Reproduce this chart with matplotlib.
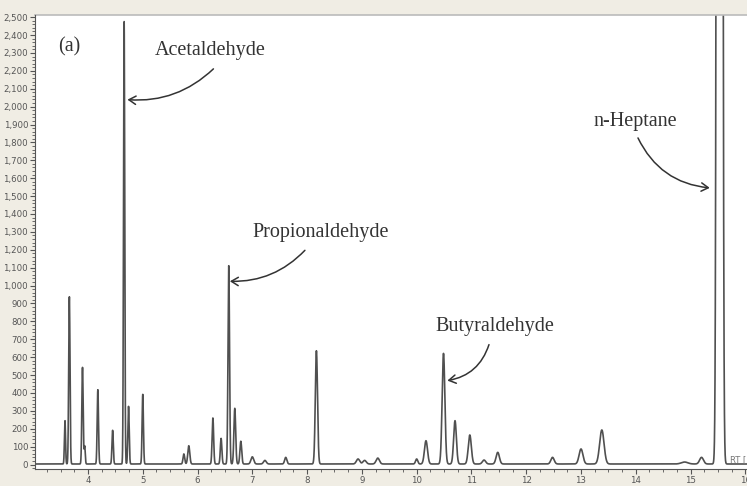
import numpy as np
import matplotlib
matplotlib.use("Agg")
import matplotlib.pyplot as plt
from matplotlib.ticker import MultipleLocator, FuncFormatter

# ---- data ----
peak_rt = [3.58, 3.66, 3.90, 3.94, 4.18, 4.45, 4.66, 4.74, 5.00, 5.75, 5.84,
           6.28, 6.43, 6.57, 6.68, 6.79, 7.00, 7.23, 7.61, 8.17, 8.93, 9.05,
           9.29, 10.00, 10.17, 10.49, 10.70, 10.97, 11.23, 11.48, 12.48,
           13.00, 13.38, 14.89, 15.20, 15.53]
peak_height = [242, 935, 540, 100, 415, 188, 2475, 322, 389, 56, 102,
               257, 143, 1108, 311, 127, 40, 20, 37, 633, 28, 20,
               33, 28, 130, 618, 242, 162, 22, 65, 37,
               84, 190, 11, 37, 60000]
peak_sigma = [0.010, 0.012, 0.012, 0.010, 0.012, 0.012, 0.011, 0.012, 0.012, 0.015, 0.018,
              0.014, 0.014, 0.014, 0.016, 0.016, 0.025, 0.025, 0.02, 0.020, 0.03, 0.03,
              0.03, 0.02, 0.028, 0.025, 0.025, 0.028, 0.03, 0.03, 0.03,
              0.035, 0.040, 0.06, 0.035, 0.027]
baseline = 3

labels = ["Acetaldehyde", "Propionaldehyde", "Butyraldehyde", "n-Heptane"]
label_xy = [(6.24, 2313), (8.25, 1296), (11.43, 771), (14.0, 1918)]
arrow_from = [(6.29, 2211), (7.96, 1197), (11.32, 670), (14.04, 1825)]
arrow_to = [(4.72, 2039), (6.59, 1024), (10.56, 469), (15.35, 1546)]
arrow_rad = [-0.22, -0.22, -0.3, 0.28]

xticks = list(range(4, 17))
yticks = list(range(0, 2600, 100))

# ---- figure ----
fig = plt.figure(figsize=(7.47, 4.86), dpi=100, facecolor="#f0ede4")
ax = fig.add_axes([35 / 747, 1 - 469 / 486, 712 / 747, (469 - 15) / 486])
ax.set_facecolor("white")

x = np.linspace(3.0, 16.1, 12000)
y = np.full_like(x, baseline, dtype=float)
for rt, h, s in zip(peak_rt, peak_height, peak_sigma):
    y += h * np.exp(-0.5 * ((x - rt) / s) ** 2)
ax.plot(x, y, color="#505050", lw=1.2)

ax.set_xlim(3.033, 16.03)
ax.set_ylim(-25, 2512)

ax.set_xticks(xticks)
ax.set_yticks(yticks)
ax.xaxis.set_minor_locator(MultipleLocator(0.25))
ax.yaxis.set_minor_locator(MultipleLocator(20))
ax.yaxis.set_major_formatter(FuncFormatter(lambda v, p: f"{int(v):,}"))
ax.tick_params(axis="both", which="major", labelsize=6.2, colors="#555555",
               length=3.5, width=0.8, direction="out", pad=1.5)
ax.tick_params(axis="both", which="minor", length=2, width=0.6, colors="#555555")
for side in ["top", "right"]:
    ax.spines[side].set_visible(False)
ax.spines["left"].set_color("#555555")
ax.spines["bottom"].set_color("#555555")
ax.axhline(ax.get_ylim()[1], color="#bbbbbb", lw=1.2, clip_on=False)

ax.text(0.033, 0.93, "(a)", transform=ax.transAxes, fontsize=14.5,
        family="Liberation Serif", color="#333333", va="center", ha="left")

for lab, (lx, ly), a0, a1, r in zip(labels, label_xy, arrow_from, arrow_to, arrow_rad):
    ax.text(lx, ly, lab, fontsize=14.5, family="Liberation Serif",
            color="#333333", ha="center", va="center")
    ax.annotate("", xy=a1, xytext=a0,
                arrowprops=dict(arrowstyle="->,head_length=0.5,head_width=0.3",
                                color="#333333", lw=1.1,
                                connectionstyle=f"arc3,rad={r}",
                                shrinkA=0, shrinkB=0))

ax.text(15.72, 5, "RT [min]", fontsize=6, color="#777777", ha="left", va="bottom",
        clip_on=False)

fig.savefig("out.png", dpi=100, facecolor=fig.get_facecolor())
